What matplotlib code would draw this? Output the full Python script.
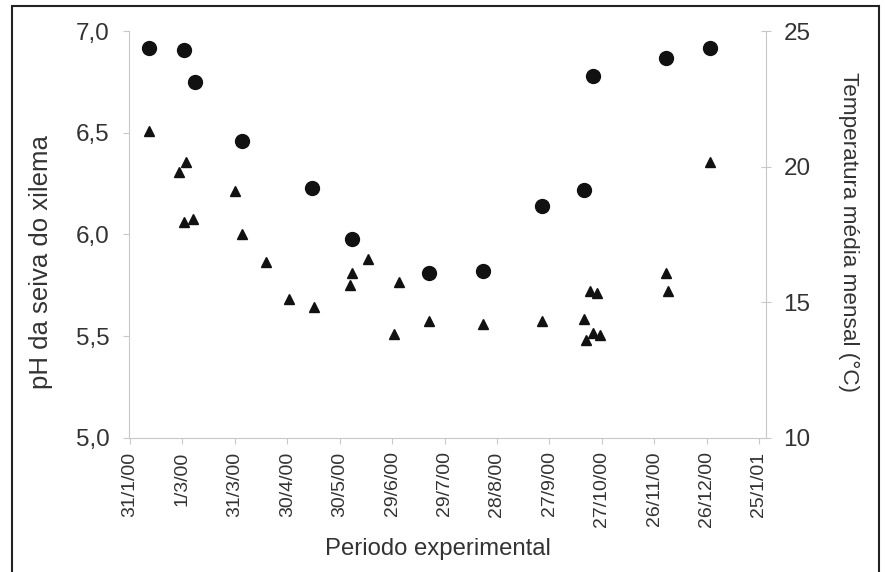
import matplotlib
matplotlib.use('Agg')
import matplotlib.pyplot as plt
import matplotlib.ticker as mticker
from matplotlib.patches import Rectangle
import pandas as pd

# pH da seiva do xilema
ph_dates = ['11/2/2000', '2/3/2000', '8/3/2000', '4/4/2000', '14/5/2000', '6/6/2000',
            '20/7/2000', '20/8/2000', '23/9/2000', '17/10/2000', '22/10/2000',
            '3/12/2000', '28/12/2000']
ph_values = [6.92, 6.91, 6.75, 6.46, 6.23, 5.98, 5.81, 5.82, 6.14, 6.22, 6.78, 6.87, 6.92]

# Temperatura media mensal (°C)
temp_dates = ['11/2/2000', '28/2/2000', '2/3/2000', '3/3/2000', '7/3/2000', '31/3/2000',
              '4/4/2000', '18/4/2000', '1/5/2000', '15/5/2000', '5/6/2000', '6/6/2000',
              '15/6/2000', '30/6/2000', '3/7/2000', '20/7/2000', '20/8/2000', '23/9/2000',
              '17/10/2000', '18/10/2000', '20/10/2000', '22/10/2000', '24/10/2000',
              '26/10/2000', '3/12/2000', '4/12/2000', '28/12/2000']
temp_values = [21.31, 19.80, 17.96, 20.19, 18.08, 19.09, 17.52, 16.50, 15.11, 14.83,
               15.64, 16.06, 16.58, 13.83, 15.76, 14.31, 14.18, 14.31, 14.37, 13.62,
               15.42, 13.86, 15.35, 13.79, 16.07, 15.42, 20.19]

ph_ticks = [5.0, 5.5, 6.0, 6.5, 7.0]
temp_ticks = [10, 15, 20, 25]

ph_x = pd.to_datetime(ph_dates, format='%d/%m/%Y')
temp_x = pd.to_datetime(temp_dates, format='%d/%m/%Y')
x_ticks = pd.date_range('2000-01-31', periods=13, freq='30D')
x_labels = [f'{d.day}/{d.month}/{d:%y}' for d in x_ticks]

plt.rcParams['font.family'] = 'Liberation Sans'
txt = '#333333'
axis_col = '#c8c8c8'

fig = plt.figure(figsize=(8.85, 5.72), dpi=100)
ax1 = fig.add_axes([0.1458, 0.2351, 0.7197, 0.7099])
ax2 = ax1.twinx()

ax1.plot(ph_x, ph_values, 'o', color='#111111', markersize=10, linestyle='none', zorder=3)
ax2.plot(temp_x, temp_values, '^', color='#111111', markersize=7, linestyle='none', zorder=3)

ax1.set_xlim(x_ticks[0] - pd.Timedelta(days=0.6), x_ticks[0] + pd.Timedelta(days=364))
ax1.set_ylim(5.0, 7.0)
ax2.set_ylim(10, 25)

ax1.set_xticks(x_ticks)
ax1.set_xticklabels(x_labels, rotation=90, fontsize=14, color=txt)
ax1.set_yticks(ph_ticks)
ax1.yaxis.set_major_formatter(mticker.FuncFormatter(lambda v, p: f'{v:.1f}'.replace('.', ',')))
ax2.set_yticks(temp_ticks)

for sp in ['top', 'right']:
    ax1.spines[sp].set_visible(False)
for sp in ['top', 'left', 'bottom']:
    ax2.spines[sp].set_visible(False)
ax1.spines['left'].set_color(axis_col)
ax1.spines['bottom'].set_color(axis_col)
ax2.spines['right'].set_color(axis_col)

ax1.tick_params(axis='y', direction='out', length=4.5, color=axis_col, labelsize=17.5,
                labelcolor=txt, pad=9.5)
ax1.tick_params(axis='x', direction='out', length=4.5, color=axis_col, pad=5.5)
ax2.tick_params(axis='y', direction='inout', length=7, color=axis_col, labelsize=17.5,
                labelcolor=txt, pad=9)

ax1.set_ylabel('pH da seiva do xilema', fontsize=18.5, color=txt, va='center')
ax1.yaxis.set_label_coords(-0.138, 0.432)
ax2.set_ylabel('Temperatura média mensal (°C)', fontsize=16.2, color=txt, rotation=270,
               va='center')
ax2.yaxis.set_label_coords(1.129, 0.506)
ax1.set_xlabel('Periodo experimental', fontsize=17.2, color=txt, va='center')
ax1.xaxis.set_label_coords(0.485, -0.275)

fig.patches.append(Rectangle((11.5 / 885, -0.02), (879 - 11.5) / 885, 1.02 - 5.7 / 572,
                             transform=fig.transFigure, fill=False, edgecolor='#222222',
                             linewidth=1.5))

fig.savefig('out.png', dpi=100)
